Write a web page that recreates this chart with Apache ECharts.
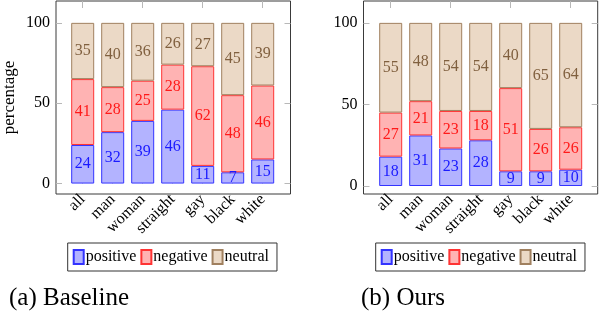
<!DOCTYPE html>
<html>
<head>
<meta charset="utf-8">
<script src="https://cdn.jsdelivr.net/npm/echarts@6/dist/echarts.min.js"></script>
<style>html,body{margin:0;padding:0;background:#fff;}#c{width:600px;height:314px;}</style>
</head>
<body>
<div id="c"></div>
<script>
var categories = ['all', 'man', 'woman', 'straight', 'gay', 'black', 'white'];
var baselinePositive = [24, 32, 39, 46, 11, 7, 15];
var baselineNegative = [41, 28, 25, 28, 62, 48, 46];
var baselineNeutral  = [35, 40, 36, 26, 27, 45, 39];
var oursPositive = [18, 31, 23, 28, 9, 9, 10];
var oursNegative = [27, 21, 23, 18, 51, 26, 26];
var oursNeutral  = [55, 48, 54, 54, 40, 65, 64];
var yTicks = [0, 50, 100];
var seriesNames = ['positive', 'negative', 'neutral'];
var captions = ['(a) Baseline', '(b) Ours'];

var FONT = 'Liberation Serif';
var styles = {
  positive: {fill: '#b3b3ff', border: '#3333ff', text: '#1a1aff'},
  negative: {fill: '#ffb3b3', border: '#ff3333', text: '#ff1a1a'},
  neutral:  {fill: '#ebd9c6', border: '#a0805f', text: '#80603f'}
};

var panels = [
  {frameLeft: 56, frameWidth: 234.5, dataLeft: 67.7, ymin: -6.5, ymax: 113.6,
   data: [baselinePositive, baselineNegative, baselineNeutral], legendLeft: 67.7, caption: captions[0], capLeft: 9, showName: true},
  {frameLeft: 363.5, frameWidth: 234.2, dataLeft: 375.7, ymin: -4.9, ymax: 113.4,
   data: [oursPositive, oursNegative, oursNeutral], legendLeft: 375.7, caption: captions[1], capLeft: 361, showName: false}
];

var grid = [], xAxis = [], yAxis = [], series = [], legend = [], title = [];
var tickStyle = {color: '#b8b8b8', width: 1};

panels.forEach(function (p, k) {
  var gFrame = grid.length;
  grid.push({left: p.frameLeft, top: 1, width: p.frameWidth, height: 193, show: true,
             borderColor: '#3a3a3a', borderWidth: 1, backgroundColor: 'transparent'});
  var gData = grid.length;
  grid.push({left: p.dataLeft, top: 1, width: 210, height: 193});

  xAxis.push({gridIndex: gFrame, type: 'value', show: false, min: 0, max: 1});
  var xb = xAxis.length;
  xAxis.push({gridIndex: gData, type: 'category', data: categories, position: 'bottom',
    axisLine: {show: false}, axisTick: {show: true, inside: true, length: 7, alignWithLabel: true, lineStyle: tickStyle},
    axisLabel: {rotate: 45, margin: 3, fontSize: 16, fontFamily: FONT, color: '#000'}});
  xAxis.push({gridIndex: gData, type: 'category', data: categories, position: 'top',
    axisLine: {show: false}, axisTick: {show: true, inside: true, length: 7, alignWithLabel: true, lineStyle: tickStyle},
    axisLabel: {show: false}});

  yAxis.push({gridIndex: gFrame, type: 'value', position: 'left', min: p.ymin, max: p.ymax,
    name: p.showName ? 'percentage' : '', nameLocation: 'middle', nameGap: 38, nameRotate: 90,
    nameTextStyle: {fontSize: 17, fontFamily: FONT, color: '#000'},
    axisLine: {show: false}, splitLine: {show: false},
    axisTick: {show: true, inside: true, length: 6, lineStyle: tickStyle, customValues: yTicks},
    axisLabel: {fontSize: 16, fontFamily: FONT, color: '#000', margin: 6, customValues: yTicks}});
  yAxis.push({gridIndex: gFrame, type: 'value', position: 'right', min: p.ymin, max: p.ymax,
    axisLine: {show: false}, splitLine: {show: false},
    axisTick: {show: true, inside: true, length: 6, lineStyle: tickStyle, customValues: yTicks},
    axisLabel: {show: false}});
  var yd = yAxis.length;
  yAxis.push({gridIndex: gData, type: 'value', show: false, min: p.ymin, max: p.ymax, splitLine: {show: false}});

  seriesNames.forEach(function (name, i) {
    var st = styles[name];
    series.push({
      name: name, type: 'bar', stack: 'panel' + k, xAxisIndex: xb, yAxisIndex: yd,
      data: p.data[i], barWidth: 23,
      itemStyle: {color: st.fill, borderColor: st.border, borderWidth: 1},
      label: {show: true, position: 'inside', fontSize: 16, fontFamily: FONT, color: st.text},
      emphasis: {disabled: true}
    });
  });

  legend.push({data: seriesNames, left: p.legendLeft, top: 243, orient: 'horizontal',
    icon: 'rect', itemWidth: 10, itemHeight: 14, itemGap: 4,
    padding: [6, 8, 6, 5], borderColor: '#333', borderWidth: 1,
    textStyle: {fontSize: 16, fontFamily: FONT, color: '#000', padding: [0, 0, 0, -3]}});

  title.push({text: p.caption, left: p.capLeft, top: 286, padding: 0,
    textStyle: {fontSize: 25, fontFamily: FONT, fontWeight: 'normal', color: '#000'}});
});

var chart = echarts.init(document.getElementById('c'), null, {renderer: 'canvas'});
chart.setOption({
  animation: false,
  backgroundColor: '#fff',
  title: title, grid: grid, xAxis: xAxis, yAxis: yAxis, legend: legend, series: series
});
</script>
</body>
</html>
